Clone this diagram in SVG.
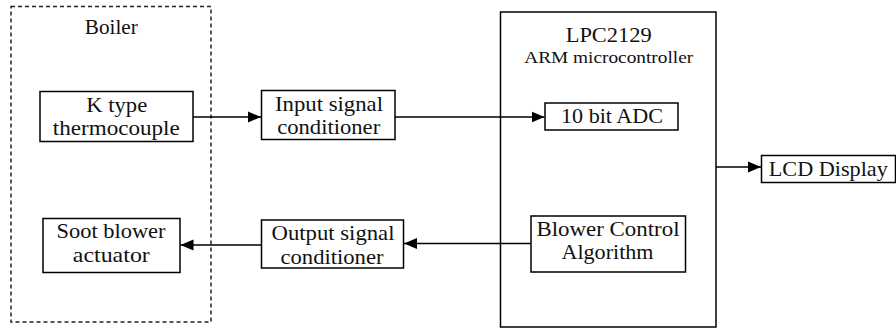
<svg xmlns="http://www.w3.org/2000/svg" width="896" height="328" viewBox="0 0 896 328">
<style>
.box{fill:#fff;stroke:#000;stroke-width:1.5}
.dash{fill:none;stroke:#222;stroke-width:1.5;stroke-dasharray:4 3}
.t{font-family:"Liberation Serif","Times New Roman",serif;font-size:21px;fill:#111;text-anchor:middle}
.s{font-size:17px}
.c{stroke:#000;stroke-width:1.5;fill:none;marker-end:url(#ah)}
</style>
<defs>
<marker id="ah" markerUnits="userSpaceOnUse" markerWidth="14" markerHeight="12" refX="13" refY="6" orient="auto">
<path d="M0,0.5 L13,6 L0,11.5 z" fill="#000"/>
</marker>
</defs>
<rect width="896" height="328" fill="#fff"/>
<g id="boiler">
<rect class="dash" x="11" y="6.5" width="200" height="315.5"/>
<text class="t" x="111.3" y="34" textLength="53" lengthAdjust="spacingAndGlyphs">Boiler</text>
</g>
<g id="thermocouple">
<rect class="box" x="40" y="91.5" width="153" height="50"/>
<text class="t" x="116.7" y="112" textLength="61" lengthAdjust="spacingAndGlyphs">K type</text>
<text class="t" x="116.3" y="135" textLength="127" lengthAdjust="spacingAndGlyphs">thermocouple</text>
</g>
<g id="input-conditioner">
<rect class="box" x="261.5" y="90.5" width="133.5" height="49"/>
<text class="t" x="329" y="111" textLength="108" lengthAdjust="spacingAndGlyphs">Input signal</text>
<text class="t" x="328.7" y="133.5" textLength="103" lengthAdjust="spacingAndGlyphs">conditioner</text>
</g>
<g id="soot-blower">
<rect class="box" x="43" y="218.5" width="137" height="54"/>
<text class="t" x="111" y="237.5" textLength="109" lengthAdjust="spacingAndGlyphs">Soot blower</text>
<text class="t" x="111.3" y="261.5" textLength="77" lengthAdjust="spacingAndGlyphs">actuator</text>
</g>
<g id="output-conditioner">
<rect class="box" x="261.5" y="220" width="142" height="48"/>
<text class="t" x="333" y="239.5" textLength="123" lengthAdjust="spacingAndGlyphs">Output signal</text>
<text class="t" x="332" y="263.5" textLength="103" lengthAdjust="spacingAndGlyphs">conditioner</text>
</g>
<g id="mcu">
<rect class="box" x="500.5" y="12" width="215.5" height="315"/>
<text class="t" x="608.7" y="41.5" textLength="86" lengthAdjust="spacingAndGlyphs">LPC2129</text>
<text class="t s" x="608.7" y="63.3" textLength="169" lengthAdjust="spacingAndGlyphs">ARM microcontroller</text>
</g>
<g id="adc">
<rect class="box" x="545" y="103" width="133" height="27"/>
<text class="t" x="612" y="123.3" textLength="102" lengthAdjust="spacingAndGlyphs">10 bit ADC</text>
</g>
<g id="algorithm">
<rect class="box" x="531" y="216" width="154.5" height="56"/>
<text class="t" x="608" y="236" textLength="143" lengthAdjust="spacingAndGlyphs">Blower Control</text>
<text class="t" x="607.5" y="259.3" textLength="92" lengthAdjust="spacingAndGlyphs">Algorithm</text>
</g>
<g id="lcd">
<rect class="box" x="761.5" y="155.5" width="134" height="27"/>
<text class="t" x="828.3" y="175.7" textLength="119" lengthAdjust="spacingAndGlyphs">LCD Display</text>
</g>
<g id="connectors">
<line class="c" x1="193" y1="117" x2="261" y2="117"/>
<line class="c" x1="395" y1="117" x2="544.5" y2="117"/>
<line class="c" x1="716" y1="167" x2="761" y2="167"/>
<line class="c" x1="531" y1="243.5" x2="404" y2="243.5"/>
<line class="c" x1="261.5" y1="245" x2="180.5" y2="245"/>
</g>
</svg>
